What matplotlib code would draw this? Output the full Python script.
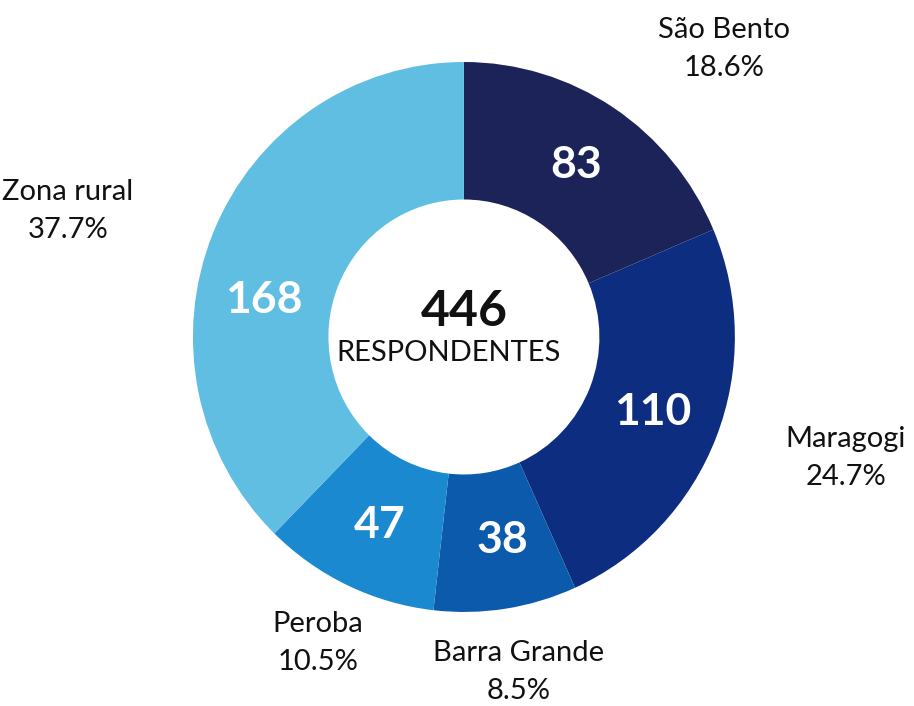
import matplotlib
matplotlib.use("Agg")
import matplotlib.pyplot as plt
import numpy as np

# respondentes por localidade
regions = ["São Bento", "Maragogi", "Barra Grande", "Peroba", "Zona rural"]
counts = [83, 110, 38, 47, 168]
shares = ["18.6%", "24.7%", "8.5%", "10.5%", "37.7%"]
total = 446
colors = ["#1c2358", "#0d2e80", "#0b5aac", "#1b89d0", "#60bee3"]

# label anchor points (layout only), in pie-radius units
label_pos = [(0.959, 1.047), (1.41, -0.44), (0.203, -1.218), (-0.539, -1.113), (-1.461, 0.458)]
# small angle nudges for the numbers inside the ring (degrees)
num_nudge = [0, 0, 2, 1, 12]

plt.rcParams['font.family'] = ['Lato', 'DejaVu Sans']

fig = plt.figure(figsize=(9.14, 7.06), dpi=100)
ax = fig.add_axes([0, 0, 1, 1])

wedges, texts = ax.pie(
    counts, colors=colors, startangle=90, counterclock=False,
    radius=1.0, wedgeprops=dict(width=0.5, edgecolor="none"))

for w, c, d in zip(wedges, counts, num_nudge):
    a = np.deg2rad((w.theta1 + w.theta2) / 2 + d)
    ax.text(0.75 * np.cos(a), 0.75 * np.sin(a), str(c), ha="center", va="center",
            color="white", fontsize=32, fontweight="bold")

for (x, y), name, pct in zip(label_pos, regions, shares):
    ax.text(x, y, name + "\n" + pct, ha="center", va="center",
            fontsize=21, linespacing=1.6, color="#111111")

ax.text(0, 0.091, str(total), ha="center", va="center", fontsize=36,
        fontweight="bold", color="#111111")
ax.text(-0.055, -0.058, "RESPONDENTES", ha="center", va="center",
        fontsize=21, color="#111111")

# x unit = 271 px, y unit = 275 px (scan is slightly stretched)
ax.set_xlim(-1.712, 1.661)
ax.set_ylim(-1.342, 1.2255)
ax.set_aspect("auto")
ax.axis("off")

fig.savefig("out.png", dpi=100)
